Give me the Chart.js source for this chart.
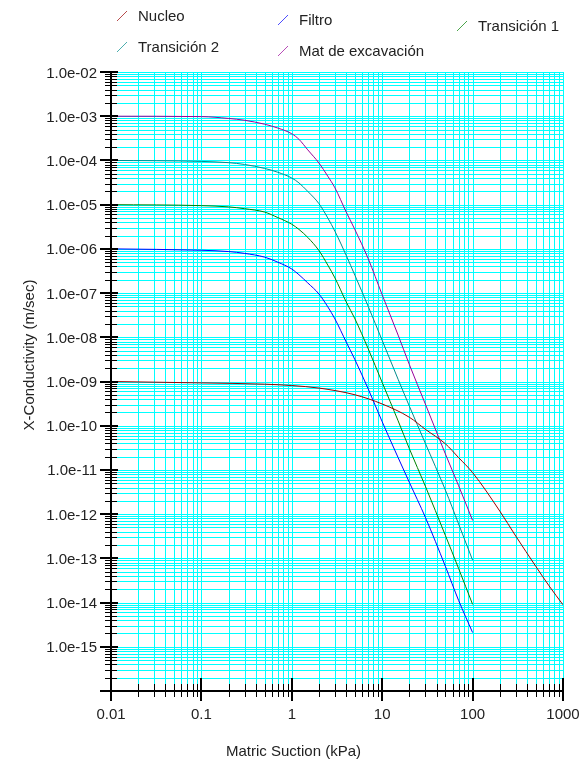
<!DOCTYPE html>
<html>
<head>
<meta charset="utf-8">
<script src="https://cdn.jsdelivr.net/npm/chart.js@4.4.1/dist/chart.umd.min.js"></script>
<style>
  html, body { margin: 0; padding: 0; background: #fff; }
  #wrap { width: 580px; height: 761px; }
</style>
</head>
<body>
<div id="wrap"><canvas id="chart" width="580" height="761"></canvas></div>
<script>
const suction = [0.01, 0.1, 0.2, 0.3, 0.5, 0.7, 1, 1.2, 1.5, 2, 2.5, 3, 4, 5, 7, 10, 15, 20, 30, 50, 70, 100];
const nucleoSuction = [0.01, 0.1, 0.5, 1, 2, 5, 10, 20, 30, 50, 70, 100, 200, 300, 500, 700, 1000];

// conductivity (m/sec)
const nucleo = [1.0e-9, 9.3e-10, 8.7e-10, 8.1e-10, 7.1e-10, 5.0e-10, 3.1e-10, 1.55e-10, 8.3e-11,
  3.9e-11, 1.9e-11, 8.7e-12, 1.17e-12, 3.2e-13, 6.6e-14, 2.4e-14, 8.9e-15];
const filtro = [1.0e-6, 9.3e-7, 8.7e-7, 7.9e-7, 6.5e-7, 5.0e-7, 3.5e-7, 2.6e-7, 1.7e-7, 9.5e-8, 4.9e-8,
  2.6e-8, 7.8e-9, 3.1e-9, 6.8e-10, 1.23e-10, 1.9e-11, 5.2e-12, 8.5e-13, 6.6e-14, 1.12e-14, 2.1e-15];
const transicion1 = [1.0e-5, 9.5e-6, 8.9e-6, 8.1e-6, 6.8e-6, 5.1e-6, 3.6e-6, 2.75e-6, 1.82e-6, 9.1e-7, 4.3e-7,
  2.2e-7, 6.3e-8, 2.6e-8, 5.5e-9, 9.5e-10, 1.29e-10, 3.0e-11, 4.3e-12, 3.3e-13, 5.9e-14, 9.1e-15];
const transicion2 = [1.0e-4, 9.5e-5, 8.9e-5, 8.1e-5, 6.6e-5, 5.4e-5, 4.0e-5, 3.1e-5, 2.0e-5, 1.05e-5, 5.0e-6,
  2.5e-6, 7.1e-7, 2.5e-7, 5.0e-8, 8.5e-9, 1.12e-9, 2.75e-10, 4.0e-11, 3.5e-12, 6.0e-13, 9.1e-14];
const matExcavacion = [1.0e-3, 9.8e-4, 8.9e-4, 8.1e-4, 6.6e-4, 5.4e-4, 4.0e-4, 3.0e-4, 1.74e-4, 8.7e-5, 4.4e-5,
  2.4e-5, 6.8e-6, 2.7e-6, 6.0e-7, 9.1e-8, 1.12e-8, 2.4e-9, 3.1e-10, 2.3e-11, 4.4e-12, 7.2e-13];

const seriesNames = ["Nucleo", "Filtro", "Transición 1", "Transición 2", "Mat de excavación"];
const seriesColors = ["#990000", "#0000ff", "#008000", "#008b8b", "#990099"];

// axis decades, minor ticks at 2..9 inside each
const xExponents = [-2, -1, 0, 1, 2, 3];
const yExponents = [-16, -15, -14, -13, -12, -11, -10, -9, -8, -7, -6, -5, -4, -3, -2];
const xDecadeLabels = ["0.01", "0.1", "1", "10", "100", "1000"];
const minorSteps = [1, 2, 3, 4, 5, 6, 7, 8, 9];

function decadeTicks(exps) {
  const out = [];
  exps.forEach((e, i) => {
    if (i === exps.length - 1) { out.push(parseFloat("1e" + e)); return; }
    minorSteps.forEach(m => out.push(parseFloat(m + "e" + e)));
  });
  return out;
}
const xTicks = decadeTicks(xExponents);
const yTicks = decadeTicks(yExponents);

function isDecade(v) {
  const l = Math.log10(v);
  return Math.abs(l - Math.round(l)) < 1e-9;
}
function yLabel(e) {
  return "1.0e-" + String(-e).padStart(2, "0");
}

const pts = (xs, ys) => xs.map((x, i) => ({x: x, y: ys[i]}));

// cyan grid on every decade and sub-decade tick
const cyanGrid = {
  id: "cyanGrid",
  beforeDatasetsDraw(chart) {
    const ctx = chart.ctx, a = chart.chartArea;
    const x = chart.scales.x, y = chart.scales.y;
    ctx.save();
    ctx.fillStyle = "#00ffff";
    xTicks.forEach(v => {
      const px = Math.round(x.getPixelForValue(v));
      ctx.fillRect(px, a.top, 1, a.bottom - a.top);
    });
    yTicks.forEach(v => {
      const py = Math.round(y.getPixelForValue(v));
      ctx.fillRect(a.left, py, a.right - a.left, 1);
    });
    ctx.restore();
  }
};

// black axes, tick marks and tick labels
const axisMarks = {
  id: "axisMarks",
  afterDraw(chart) {
    const ctx = chart.ctx, a = chart.chartArea;
    const x = chart.scales.x, y = chart.scales.y;
    ctx.save();
    ctx.fillStyle = "#000";
    xTicks.forEach(v => {
      const major = isDecade(v);
      const px = Math.round(x.getPixelForValue(v));
      if (major) ctx.fillRect(px - 1, a.bottom - 13, 2, 23);
      else ctx.fillRect(px, a.bottom - 7, 1, 13);
    });
    yTicks.forEach(v => {
      const major = isDecade(v);
      const py = Math.round(y.getPixelForValue(v));
      if (major) ctx.fillRect(a.left - 11, py - 1, 18, 2);
      else ctx.fillRect(a.left - 6, py, 12, 1);
    });
    ctx.fillRect(a.left - 1, a.top, 2, a.bottom - a.top + 1);
    ctx.fillRect(a.left - 1, a.bottom - 1, a.right - a.left + 1, 2);

    ctx.fillStyle = "#222";
    ctx.font = "15px Arial";
    ctx.textBaseline = "alphabetic";
    ctx.textAlign = "center";
    xExponents.forEach((e, i) => {
      ctx.fillText(xDecadeLabels[i], x.getPixelForValue(parseFloat("1e" + e)), a.bottom + 28);
    });
    ctx.textAlign = "right";
    yExponents.forEach((e, i) => {
      if (i === 0) return;
      ctx.fillText(yLabel(e), a.left - 14, y.getPixelForValue(parseFloat("1e" + e)) + 5.5);
    });
    ctx.restore();
  }
};

const axisTitles = {
  id: "axisTitles",
  afterDraw(chart) {
    const ctx = chart.ctx;
    ctx.save();
    ctx.fillStyle = "#222";
    ctx.font = "15px Arial";
    ctx.textAlign = "center";
    ctx.textBaseline = "alphabetic";
    ctx.fillText("Matric Suction (kPa)", 293.5, 756);
    ctx.translate(34, 355);
    ctx.rotate(-Math.PI / 2);
    ctx.fillText("X-Conductivity (m/sec)", 0, 0);
    ctx.restore();
  }
};

// legend spread over the top, little slanted strokes as keys
const legendSpots = [[117, 21], [278, 25], [457, 31], [117, 52], [278, 56]];
const slantedLegend = {
  id: "slantedLegend",
  afterDraw(chart) {
    const ctx = chart.ctx;
    ctx.save();
    ctx.font = "15px Arial";
    ctx.textBaseline = "alphabetic";
    ctx.textAlign = "left";
    chart.data.datasets.forEach((ds, i) => {
      const [lx, ly] = legendSpots[i];
      ctx.globalAlpha = 0.7;
      ctx.strokeStyle = ds.borderColor;
      ctx.lineWidth = 1;
      ctx.beginPath();
      ctx.moveTo(lx, ly);
      ctx.lineTo(lx + 10, ly - 10);
      ctx.stroke();
      ctx.globalAlpha = 1;
      ctx.fillStyle = "#222";
      ctx.fillText(ds.label, lx + 21, ly);
    });
    ctx.restore();
  }
};

const xValues = [nucleoSuction, suction, suction, suction, suction];
const yValues = [nucleo, filtro, transicion1, transicion2, matExcavacion];

const ctx = document.getElementById("chart").getContext("2d");
new Chart(ctx, {
  type: "line",
  data: {
    datasets: seriesNames.map((name, i) => ({
      label: name,
      data: pts(xValues[i], yValues[i]),
      borderColor: seriesColors[i],
      backgroundColor: seriesColors[i],
      borderWidth: 1,
      pointRadius: 0,
      fill: false,
      cubicInterpolationMode: "monotone"
    }))
  },
  options: {
    responsive: false,
    animation: false,
    layout: { padding: { top: 72, right: 17, left: 111, bottom: 70 } },
    plugins: { legend: { display: false }, tooltip: { enabled: false } },
    scales: {
      x: { type: "logarithmic", min: 0.01, max: 1000, display: false },
      y: { type: "logarithmic", min: 1e-16, max: 1e-2, display: false }
    }
  },
  plugins: [cyanGrid, axisMarks, axisTitles, slantedLegend]
});
</script>
</body>
</html>
